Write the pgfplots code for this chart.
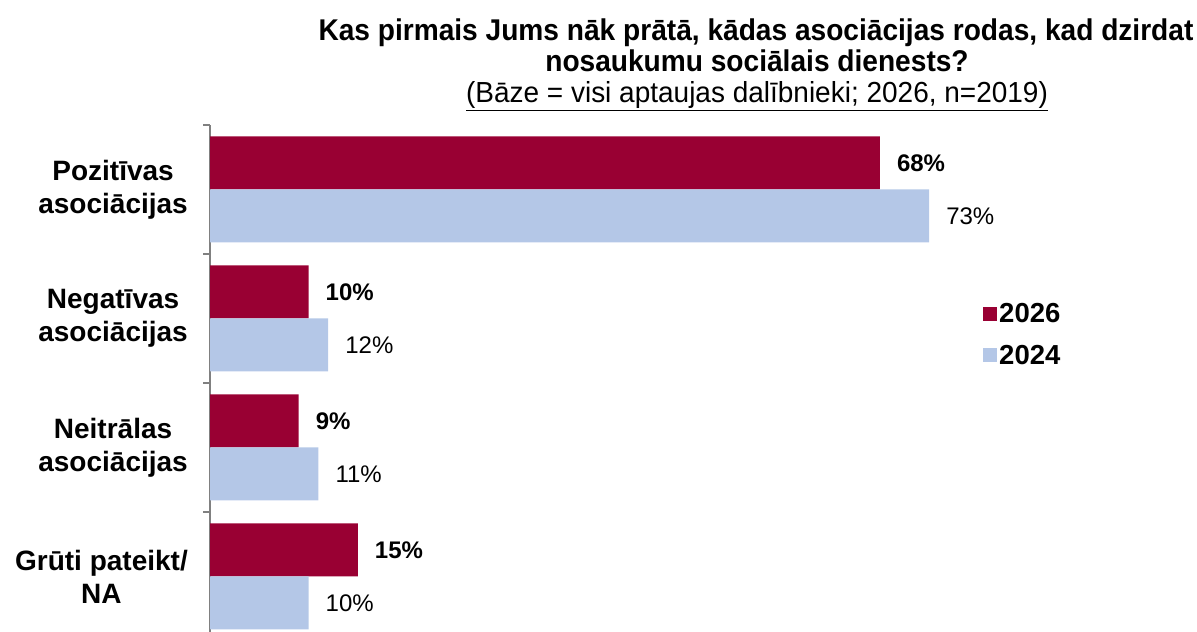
\documentclass[border=0pt]{standalone}
\usepackage{fontspec}
\setmainfont{Liberation Sans}
\usepackage{pgfplots}
\pgfplotsset{compat=1.18}
\definecolor{c26}{HTML}{990033}
\definecolor{c24}{HTML}{B4C7E7}
\definecolor{axgray}{HTML}{808080}
\begin{document}
\begin{tikzpicture}[x=1bp,y=1bp]
\begin{axis}[
  at={(210bp,-9bp)}, anchor=south west,
  scale only axis, width=788bp, height=516bp,
  xbar, bar width=53bp,
  xmin=0, xmax=80,
  ymin=-0.5, ymax=3.5,
  hide x axis,
  axis y line*=left,
  y axis line style={draw=axgray, line width=1.5bp, -},
  ytick={0,1,2,3},
  yticklabels={{Grūti pateikt/\\NA},{Neitrālas\\asociācijas},{Negatīvas\\asociācijas},{Pozitīvas\\asociācijas}},
  yticklabel style={align=center, font=\fontsize{28bp}{33bp}\selectfont\bfseries, inner sep=0pt, xshift=-22bp},
  major tick length=0pt,
  extra y ticks={-0.5,0.5,1.5,2.5,3.5},
  extra y tick labels={},
  extra y tick style={major tick length=7bp, tick align=outside, tick style={draw=axgray, line width=1.5bp}},
  /pgf/number format/assume math mode=true,
  point meta=x,
  nodes near coords={\pgfmathprintnumber{\pgfplotspointmeta}\%},
  nodes near coords style={anchor=west, inner sep=0pt, xshift=17bp, text=black},
  legend style={draw=none, fill=none, at={(0.981,0.658)}, anchor=north west,
    font=\fontsize{27.5bp}{31bp}\selectfont\bfseries, row sep=16.5bp, inner sep=0pt},
  legend cell align=left,
  legend image code/.code={\fill[#1] (0bp,-7bp) rectangle (14bp,7bp);},
]
\addplot[fill=c26, draw=none, bar shift=26.5bp,
  every node near coord/.append style={font=\fontsize{24bp}{28bp}\selectfont\bfseries}]
  coordinates {(68,3) (10,2) (9,1) (15,0)};
\addplot[fill=c24, draw=none, bar shift=-26.5bp,
  every node near coord/.append style={font=\fontsize{24bp}{28bp}\selectfont}]
  coordinates {(73,3) (12,2) (11,1) (10,0)};
\legend{2026,2024}
\end{axis}
\node[anchor=base, font=\fontsize{30bp}{33bp}\selectfont\bfseries] at (756,591) {\scalebox{0.937}[1]{Kas pirmais Jums nāk prātā, kādas asociācijas rodas, kad dzirdat}};
\node[anchor=base, font=\fontsize{30bp}{33bp}\selectfont\bfseries] at (757,560) {\scalebox{0.937}[1]{nosaukumu sociālais dienests?}};
\node[anchor=base, font=\fontsize{29bp}{33bp}\selectfont] at (757,529) {\scalebox{0.965}[1]{\underline{(Bāze = visi aptaujas dalībnieki; 2026, n=2019)}}};
\pgfresetboundingbox
\path[use as bounding box] (0,0) rectangle (1197,632);
\end{tikzpicture}
\end{document}
